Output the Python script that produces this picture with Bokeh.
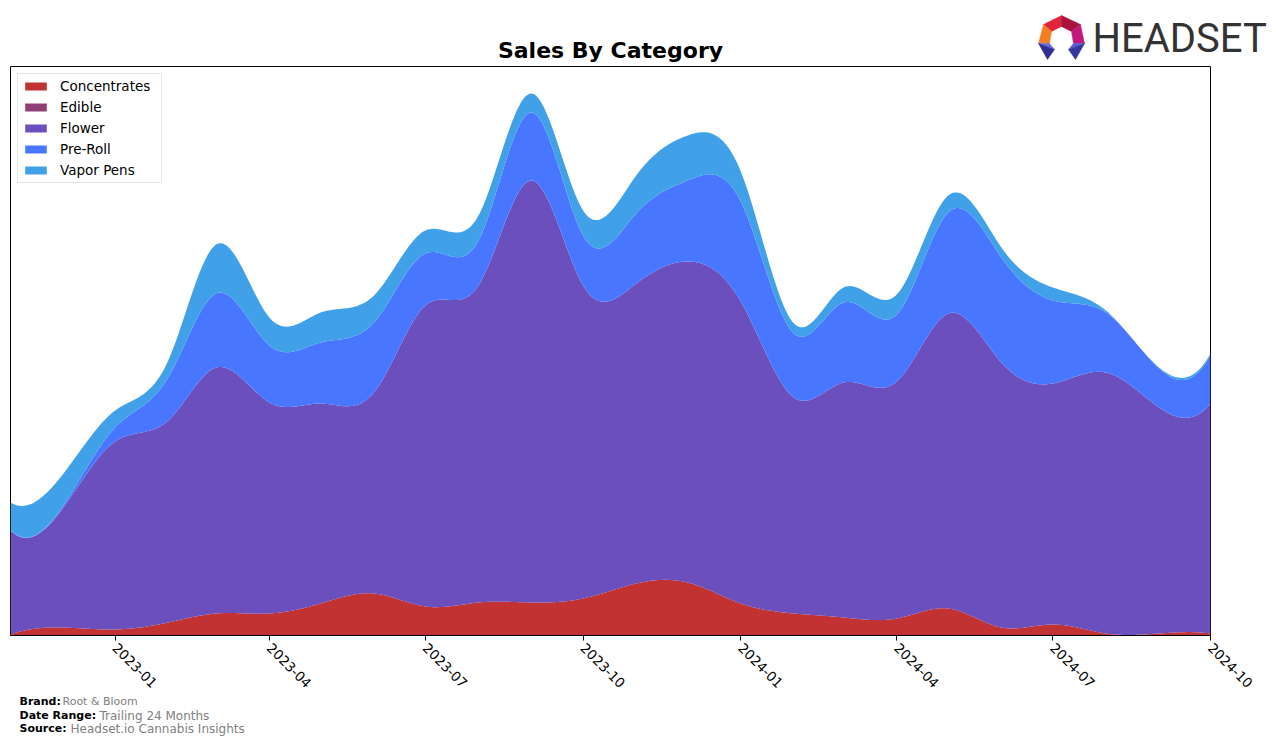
import numpy as np
import pandas as pd
from bokeh.plotting import figure
from bokeh.layouts import column
from bokeh.models import (ColumnDataSource, Range1d, FixedTicker, DatetimeTickFormatter)
from bokeh.core.properties import value
from bokeh.embed import file_html
from bokeh.resources import INLINE

# ---------------- data (arbitrary sales units) ----------------
months = ["2022-11", "2022-12", "2023-01", "2023-02", "2023-03", "2023-04",
          "2023-05", "2023-06", "2023-07", "2023-08", "2023-09", "2023-10",
          "2023-11", "2023-12", "2024-01", "2024-02", "2024-03", "2024-04",
          "2024-05", "2024-06", "2024-07", "2024-08", "2024-09", "2024-10"]
concentrates = [1, 8, 6, 13, 22, 22, 32, 42, 29, 33, 33, 37,
                52, 53, 32, 22, 18, 17, 27, 8, 11, 2, 2, 2]
edible = [0, 0, 0, 0, 0, 0, 0, 0, 0, 0, 0, 0,
          0, 0, 0, 0, 0, 0, 0, 0, 0, 0, 0, 0]
flower = [104, 118, 188, 202, 246, 211, 200, 201, 301, 317, 422, 313,
          300, 321, 302, 216, 235, 237, 295, 265, 241, 261, 226, 230]
pre_roll = [1, 2, 14, 43, 74, 57, 61, 70, 52, 45, 68, 50,
            70, 81, 100, 64, 80, 67, 101, 105, 83, 60, 39, 49]
vapor_pens = [27, 32, 17, 17, 49, 28, 30, 27, 23, 25, 19, 25,
              38, 45, 30, 10, 15, 20, 17, 10, 13, 2, 1, 1]
categories = ["Concentrates", "Edible", "Flower", "Pre-Roll", "Vapor Pens"]
colors = ["#C23232", "#923F76", "#6A4FBD", "#4876FF", "#40A0E8"]
tick_labels = ["2023-01", "2023-04", "2023-07", "2023-10",
               "2024-01", "2024-04", "2024-07", "2024-10"]

series = [concentrates, edible, flower, pre_roll, vapor_pens]


# ---------------- smoothing (not-a-knot cubic spline) ----------------
def spline(xk, yk, xs):
    xk = np.asarray(xk, float)
    yk = np.asarray(yk, float)
    n = len(xk)
    h = np.diff(xk)
    A = np.zeros((n, n))
    b = np.zeros(n)
    A[0, 0] = h[1]; A[0, 1] = -(h[0] + h[1]); A[0, 2] = h[0]
    for i in range(1, n - 1):
        A[i, i - 1] = h[i - 1]
        A[i, i] = 2 * (h[i - 1] + h[i])
        A[i, i + 1] = h[i]
        b[i] = 6 * ((yk[i + 1] - yk[i]) / h[i] - (yk[i] - yk[i - 1]) / h[i - 1])
    A[n - 1, n - 3] = h[n - 2]; A[n - 1, n - 2] = -(h[n - 3] + h[n - 2]); A[n - 1, n - 1] = h[n - 3]
    M = np.linalg.solve(A, b)
    idx = np.clip(np.searchsorted(xk, xs, side="right") - 1, 0, n - 2)
    x0 = xk[idx]; x1 = xk[idx + 1]; hh = x1 - x0
    y0 = yk[idx]; y1 = yk[idx + 1]; M0 = M[idx]; M1 = M[idx + 1]
    return (M0 * (x1 - xs) ** 3 / (6 * hh) + M1 * (xs - x0) ** 3 / (6 * hh)
            + (y0 / hh - M0 * hh / 6) * (x1 - xs) + (y1 / hh - M1 * hh / 6) * (xs - x0))


dates = pd.to_datetime(months)
xk = np.array((dates - dates[0]).days, dtype=float)
xs = np.linspace(xk[0], xk[-1], 700)
t0 = dates[0].value / 1e6
data = {"x": t0 + xs * 86400000.0}
for name, vals in zip(categories, series):
    data[name] = spline(xk, vals, xs)
src = ColumnDataSource(data)

# ---------------- layout geometry (page pixels) ----------------
W, H = 1276, 744
FL, FR, FT, FB = 10, 1210, 66, 635   # plot frame edges
FOOT = 695                            # start of footer strip


def blank(y_top, y_bottom):
    # frames of stacked plots line up on the left, so keep the same left border
    f = figure(frame_width=W - FL, frame_height=y_bottom - y_top, title=None,
               output_backend="svg", toolbar_location=None,
               x_range=Range1d(FL, W), y_range=Range1d(y_bottom, y_top),
               x_axis_location=None, y_axis_location=None,
               min_border_left=FL, min_border_right=0,
               min_border_top=0, min_border_bottom=0)
    f.outline_line_color = None
    f.xgrid.visible = False
    f.ygrid.visible = False
    f.background_fill_color = "white"
    f.border_fill_color = "white"
    return f


# ---------------- header: title + logo ----------------
top = blank(0, FT)
top.text(x=[(FL + FR) / 2], y=[50], text=["Sales By Category"],
         text_font=value("DejaVu Sans"), text_font_style="bold", text_font_size="22px",
         text_color="black", text_align="center", text_baseline="middle")
top.text(x=[1092], y=[38], text=["HEADSET"],
         text_font=value("Roboto"),
         text_font_size="40px", text_color="#333333",
         text_align="left", text_baseline="middle")
icon_xs = [[1061, 1043, 1051, 1061], [1061, 1080, 1071, 1061],
           [1043, 1038, 1049, 1051], [1080, 1084, 1073, 1071],
           [1038, 1049, 1054], [1038, 1054, 1047],
           [1084, 1073, 1068], [1084, 1068, 1075]]
icon_ys = [[15, 24, 31, 26], [15, 24, 31, 26],
           [24, 43, 43, 31], [24, 43, 43, 31],
           [43, 43, 49], [43, 49, 59],
           [43, 43, 49], [43, 49, 59]]
icon_cols = ["#E0263A", "#A8123C", "#F47F22", "#C2187C",
             "#6A6CE0", "#2E3192", "#5A5CD0", "#34379E"]
top.patches(xs=icon_xs, ys=icon_ys, fill_color=icon_cols, line_color=icon_cols,
            line_width=0.5)

# ---------------- main chart ----------------
p = figure(frame_width=FR - FL, frame_height=FB - FT, title=None,
           output_backend="svg", toolbar_location=None,
           x_axis_type="datetime",
           x_range=Range1d(t0, t0 + xk[-1] * 86400000.0),
           y_range=Range1d(0, FB - FT),
           min_border_left=FL, min_border_right=W - FR,
           min_border_top=0, min_border_bottom=FOOT - FB)
p.background_fill_color = "white"
p.border_fill_color = "white"
p.outline_line_color = "black"
p.outline_line_width = 1
p.outline_line_alpha = 1
p.xgrid.visible = False
p.ygrid.visible = False
p.yaxis.visible = False

p.varea_stack(stackers=categories, x="x", source=src, color=colors,
              legend_label=categories)

tick_ms = [pd.Timestamp(t + "-01").value / 1e6 for t in tick_labels]
xa = p.xaxis[0]
xa.ticker = FixedTicker(ticks=tick_ms, minor_ticks=[])
fmt = "%Y-%m"
xa.formatter = DatetimeTickFormatter(microseconds=fmt, milliseconds=fmt, seconds=fmt,
                                     minsec=fmt, minutes=fmt, hourmin=fmt, hours=fmt,
                                     days=fmt, months=fmt, years=fmt)
xa.major_label_orientation = -np.pi / 4
xa.major_label_text_font = "DejaVu Sans"
xa.major_label_text_font_size = "13.5px"
xa.major_label_text_color = "black"
xa.major_tick_out = 5
xa.major_tick_in = 0
xa.minor_tick_out = 0
xa.axis_line_color = "black"
xa.major_tick_line_color = "black"
xa.major_label_standoff = 5

lg = p.legend[0]
lg.location = "top_left"
lg.margin = 7
lg.padding = 4
lg.spacing = 5
lg.glyph_width = 27
lg.glyph_height = 10
lg.label_height = 14
lg.label_width = 97
lg.label_standoff = 11
lg.label_text_font = "DejaVu Sans"
lg.label_text_font_size = "13.5px"
lg.label_text_color = "black"
lg.border_line_color = "#cccccc"
lg.border_line_width = 1
lg.background_fill_alpha = 0.85

# ---------------- footer ----------------
foot = blank(FOOT, H)
foot.text(x=[19, 19, 19], y=[701, 715, 728], text=["Brand:", "Date Range:", "Source:"],
          text_font=value("DejaVu Sans"), text_font_style="bold", text_font_size="11px",
          text_color="black", text_baseline="middle")
foot.text(x=[62], y=[701], text=["Root & Bloom"],
          text_font=value("DejaVu Sans"), text_font_size="11px",
          text_color="#808080", text_baseline="middle")
foot.text(x=[99, 70], y=[715, 728], text=["Trailing 24 Months", "Headset.io Cannabis Insights"],
          text_font=value("DejaVu Sans"), text_font_size="12px",
          text_color="#808080", text_baseline="middle")

layout = column(top, p, foot, spacing=0)
open("out.html", "w").write(file_html(layout, INLINE))
